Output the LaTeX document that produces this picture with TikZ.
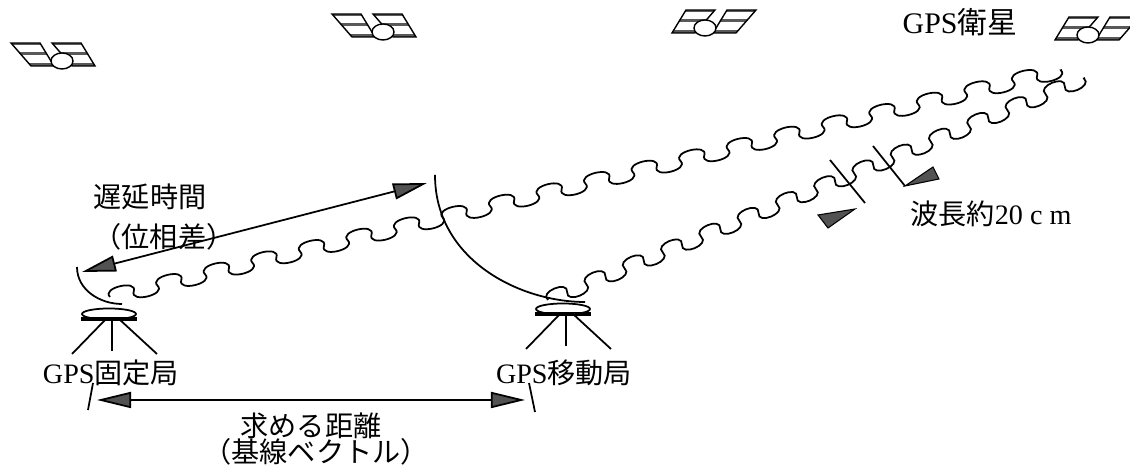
\documentclass[tikz,border=0pt]{standalone}
\usepackage{fontspec}
\setmainfont{Liberation Serif}
\newfontfamily\jp{Noto Sans CJK JP}
\usetikzlibrary{arrows.meta,decorations}

% Radio wave: rounded crests joined by backward-leaning S bends
\pgfdeclaredecoration{gpswave}{initial}{
  \state{initial}[width=\pgfdecorationsegmentlength,
                  switch if less than=\pgfdecorationsegmentlength to final]{
    \pgfpathcurveto
      {\pgfqpoint{-0.14\pgfdecorationsegmentlength}{1.45\pgfdecorationsegmentamplitude}}
      {\pgfqpoint{0.64\pgfdecorationsegmentlength}{1.45\pgfdecorationsegmentamplitude}}
      {\pgfqpoint{0.5\pgfdecorationsegmentlength}{0pt}}
    \pgfpathcurveto
      {\pgfqpoint{0.36\pgfdecorationsegmentlength}{-1.45\pgfdecorationsegmentamplitude}}
      {\pgfqpoint{1.14\pgfdecorationsegmentlength}{-1.45\pgfdecorationsegmentamplitude}}
      {\pgfqpoint{\pgfdecorationsegmentlength}{0pt}}
  }
  \state{final}{\pgfpathlineto{\pgfpointdecoratedpathlast}}
}

% one solar panel of a satellite, #1 = x of its upper left corner
\newcommand\satpanel[1]{%
  \begin{scope}
    \clip (#1,-18) -- ++(29,0) -- ++(14,23) -- ++(-23,0) -- cycle;
    \fill[black!65] (#1-5,-18) rectangle ++(60,2.5);
    \fill[black!65] (#1-5,-9) rectangle ++(60,3);
    \fill[black!65] (#1-5,2) rectangle ++(60,3);
  \end{scope}
  \draw (#1,-18) -- ++(29,0) -- ++(14,23) -- ++(-23,0) -- cycle;
}

\tikzset{
  every node/.style={inner sep=0pt},
  lbl/.style={font=\fontsize{8pt}{9pt}\selectfont},
  radiowave/.style={decorate, decoration={gpswave, amplitude=0.075cm}, line width=0.5pt},
  bigtip/.tip={Triangle[length=0.34cm,width=0.16cm,fill=black!68]},
  dblarrow/.style={line width=0.5pt, bigtip-bigtip},
  marktri/.style={fill=black!68, draw=black, line width=0.3pt},
  satellite/.pic={
    \begin{scope}[line width=0.4pt]
      \satpanel{-51}
      \satpanel{-10}
      \draw[fill=white] (0,0) ellipse [x radius=11, y radius=8];
    \end{scope}
  },
  antenna/.pic={
    \draw[line width=0.5pt] (0,0) ellipse [x radius=27, y radius=5.5];
    \draw[line width=0.9pt] (-28,5) -- (28,5);
    \draw[line width=0.5pt] (-3,5) -- (-37,40);
    \draw[line width=0.5pt] (3,5) -- (3,37);
    \draw[line width=0.5pt] (10,5) -- (48,40);
  }
}

\begin{document}
\begin{tikzpicture}[x=0.01cm, y=-0.01cm, line width=0.5pt]
\fill[white] (0,0) rectangle (1130,468);
\useasboundingbox (0,0) rectangle (1130,468);

% satellites
\pic at (62,61) {satellite};
\pic at (383,32) {satellite};
\pic[xscale=-1] at (705,28) {satellite};
\pic[xscale=-1] at (1088,35) {satellite};
\node[lbl, font=\fontsize{8.5pt}{9pt}\selectfont] (satlabel) at (960,22) {GPS{\jp 衛星}};

% receiving stations
\coordinate (fixst) at (109,314);
\coordinate (rovst) at (563,309);
\pic at (fixst) {antenna};
\pic at (rovst) {antenna};
\node[lbl] (fixlabel) at (111,373) {GPS{\jp 固定局}};
\node[lbl] (rovlabel) at (564,373) {GPS{\jp 移動局}};

% wave fronts
\draw (77,267) .. controls (77,290) and (100,304) .. (122,304);
\draw (435,175) .. controls (435,260) and (520,302) .. (585,302);

% signals from the satellite
\coordinate (wA0) at (110,297);
\coordinate (wA1) at (1062,70);
\coordinate (wB0) at (548,300);
\coordinate (wB1) at (1085,78);
\draw[radiowave, decoration={segment length=0.4885cm}] (wA0) -- (wA1);
\draw[radiowave, decoration={segment length=0.414cm}] (wB0) -- (wB1);

% delay between the two receptions
\coordinate (dl0) at (82,272);
\coordinate (dl1) at (427,183);
\draw[dblarrow] (dl0) -- (dl1);
\node[lbl] (delay) at (150,197) {\jp 遅延時間};
\node[lbl] (phase) at (164,237) {\jp （位相差）};

% baseline between the stations
\coordinate (bl0) at (97,400);
\coordinate (bl1) at (525,400);
\draw (93,383) -- (88,410);
\draw (529,383) -- (535,412);
\draw[dblarrow] (bl0) -- (bl1);
\node[lbl] (dist) at (311,426) {\jp 求める距離};
\node[lbl] (vect) at (316,452) {\jp （基線ベクトル）};

% wavelength marks
\draw (830,160) -- (865,203);
\draw (873,146) -- (905,186);
\draw[marktri] (818,215) -- (828,228) -- (855,209) -- cycle;
\draw[marktri] (905,186) -- (933,167) -- (939,179) -- cycle;
\node[lbl] (wl) at (991,214) {{\jp 波長約}20 c m};
\end{tikzpicture}
\end{document}
